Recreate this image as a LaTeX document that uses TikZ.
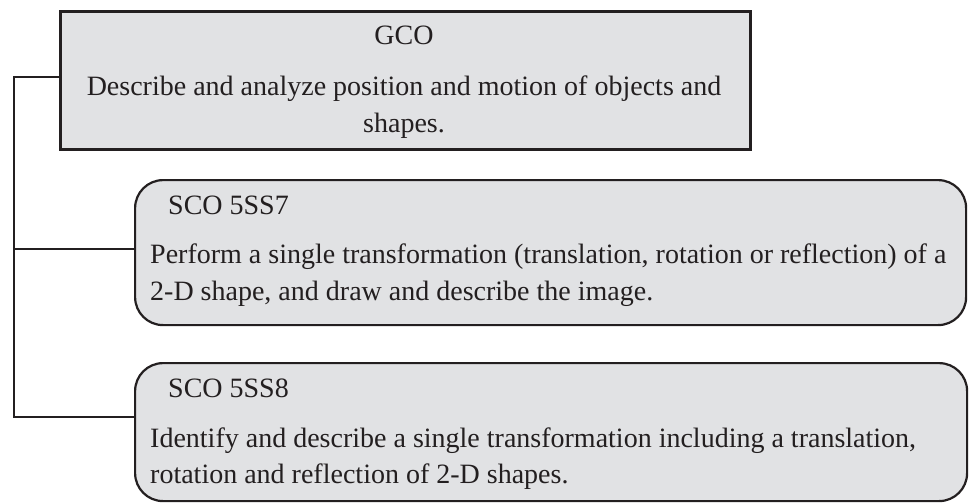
\documentclass[tikz,border=0pt]{standalone}
\usepackage{fontspec}
\setmainfont{Liberation Serif}
\usetikzlibrary{positioning,calc}
\definecolor{boxgray}{HTML}{E1E2E4}
\definecolor{ink}{HTML}{231F20}

\begin{document}
\begin{tikzpicture}[x=1pt, y=-1pt,
          gcobox/.style={rectangle, draw=ink, fill=boxgray, line width=2.6pt, anchor=north west, inner sep=0pt},
          scobox/.style={rectangle, draw=ink, fill=boxgray, line width=2.2pt, rounded corners=28pt, anchor=north west, inner sep=0pt},
          txt/.style={text=ink, inner sep=0pt, font=\fontsize{28}{37}\selectfont},
          conn/.style={draw=ink, line width=2.2pt}]
        \useasboundingbox (0,0) rectangle (971,503);
        % boxes
        \node[gcobox, minimum width=690pt, minimum height=138pt] (gco) at (59,10) {};
        \node[scobox, minimum width=831pt, minimum height=145pt] (sco7) at (134,179) {};
        \node[scobox, minimum width=832pt, minimum height=138pt] (sco8) at (134,362) {};
        % texts (multi-line nodes sit on their last baseline)
        \node[txt, anchor=base] (gcot) at (404,45) {GCO};
        \node[txt, anchor=base, align=center] (gcob) at (404,132)
            {Describe and analyze position and motion of objects and\\shapes.};
        \node[txt, anchor=base west] (sco7t) at (168,214) {SCO 5SS7};
        \node[txt, anchor=base west, align=left] (sco7b) at (150,300)
            {Perform a single transformation (translation, rotation or reflection) of a\\2-D shape, and draw and describe the image.};
        \node[txt, anchor=base west] (sco8t) at (168,397) {SCO 5SS8};
        \node[txt, anchor=base west, align=left, font=\fontsize{28}{36}\selectfont] (sco8b) at (150,483)
            {Identify and describe a single transformation including a translation,\\rotation and reflection of 2-D shapes.};
        % connectors
        \coordinate (top) at (14,77);
        \coordinate (mid) at (14,249);
        \coordinate (bot) at (14,417);
        \draw[conn] (gco.west |- top) -- (top) -- (bot) -- (bot -| sco8.west);
        \draw[conn] (mid) -- (mid -| sco7.west);
\end{tikzpicture}
\end{document}
